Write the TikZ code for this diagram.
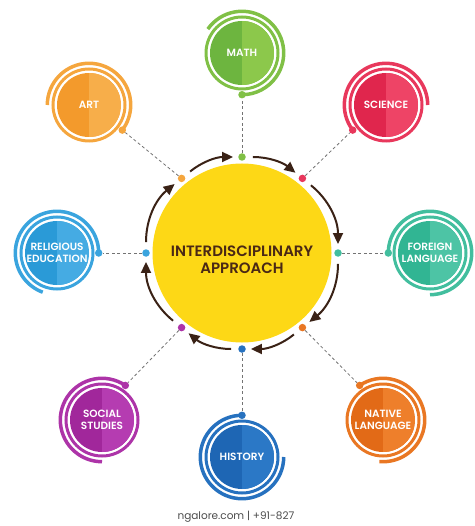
\documentclass[tikz,border=0pt]{standalone}
\usepackage{fontspec}
\setmainfont{Poppins}[BoldFont={Poppins SemiBold}]
\usetikzlibrary{positioning, arrows.meta}

\definecolor{artdk}{HTML}{F39A2C}       \definecolor{artlt}{HTML}{F7AE4A}
\definecolor{mathdk}{HTML}{6DB53F}      \definecolor{mathlt}{HTML}{8CC84B}
\definecolor{sciencedk}{HTML}{E0264D}   \definecolor{sciencelt}{HTML}{EE4466}
\definecolor{foreigndk}{HTML}{31B593}   \definecolor{foreignlt}{HTML}{4DC4A5}
\definecolor{nativedk}{HTML}{E26A17}    \definecolor{nativelt}{HTML}{EE7F2B}
\definecolor{historydk}{HTML}{1E66B4}   \definecolor{historylt}{HTML}{2B78C6}
\definecolor{socialdk}{HTML}{A1279B}    \definecolor{sociallt}{HTML}{B53CB1}
\definecolor{religiousdk}{HTML}{2A9AD7} \definecolor{religiouslt}{HTML}{45ABE3}
\definecolor{hubyellow}{HTML}{FDD816}
\definecolor{hubtext}{HTML}{4A2815}
\definecolor{flowbrown}{HTML}{3A2216}

\tikzset{
  topic/.style={circle, minimum size=64pt, inner sep=0pt, align=center, text=white,
    font=\bfseries\fontsize{10.5}{12.5}\selectfont},
  ringdot/.style={circle, inner sep=0pt, minimum size=7.5pt},
  link/.style={black!55, line width=0.8pt, dash pattern=on 3pt off 2.5pt},
  flow/.style={flowbrown, line width=2pt, -{Triangle[length=11pt, width=10pt]},
    shorten <=7pt, shorten >=5pt},
}

\begin{document}
\begin{tikzpicture}[x=1pt, y=1pt]
    \useasboundingbox (0,0) rectangle (474,-526);

    % Central circle
    \node[circle, fill=hubyellow, minimum size=179pt] (hub) at (242,-253) {};
    \node[text=hubtext, align=center, font=\bfseries\fontsize{15}{17}\selectfont]
      (title) at ([yshift=-7pt]hub.center) {INTERDISCIPLINARY\\APPROACH};

    % Subjects: name/x/y/ring angle/dot angle/arc start/arc end/label
    \foreach \n/\x/\y/\r/\d/\a/\b/\t in {art/89/-105/129/-37/180/-37/ART,
        math/242/-53/90/-90/145/-90/MATH,
        science/386/-105/51/217/217/0/SCIENCE,
        foreign/430/-253/0/180/180/-90/{FOREIGN\\LANGUAGE},
        native/383/-420/-51/124/124/-95/{NATIVE\\LANGUAGE},
        history/242/-457/-90/90/90/360/HISTORY,
        social/102/-420/-129/56/56/270/{SOCIAL\\STUDIES},
        religious/57/-253/180/0/0/250/{RELIGIOUS\\EDUCATION}} {
      % Two-tone disc with its rings
      \node[topic, fill=\n dk, path picture={
          \fill[\n lt] (path picture bounding box.south) rectangle (path picture bounding box.north east);}]
        (\n) at (\x,\y) {\t};
      \draw[\n dk!40!\n lt, line width=3pt] (\n.center) circle (36pt);
      \draw[\n dk!40!\n lt, line width=3.5pt] ([shift={(\a:41.7pt)}]\n.center)
        arc[start angle=\a, end angle=\b, radius=41.7pt];

      % Dots and dashed link to the centre
      \node[ringdot, fill=\n dk!40!\n lt] (\n-p) at ([shift={(\d:41.7pt)}]\n.center) {};
      \node[ringdot, fill=\n dk!40!\n lt] (\n-r) at ([shift={(\r:96pt)}]hub.center) {};
      \draw[link] (\n-r) -- (\n-p);
    }

    % Arrows round the centre
    \foreach \s/\e/\g in {art/math/19.5, math/science/19.5, science/foreign/25.5, foreign/native/25.5,
        native/history/19.5, history/social/19.5, social/religious/25.5, religious/art/25.5} {
      \draw[flow] (\s-r) to[bend left=\g] (\e-r);
    }

    \node[anchor=west, text=black!70, font=\fontsize{10.5}{12}\selectfont] (footer) at (174,-517)
      {ngalore.com | +91-827};
\end{tikzpicture}
\end{document}
